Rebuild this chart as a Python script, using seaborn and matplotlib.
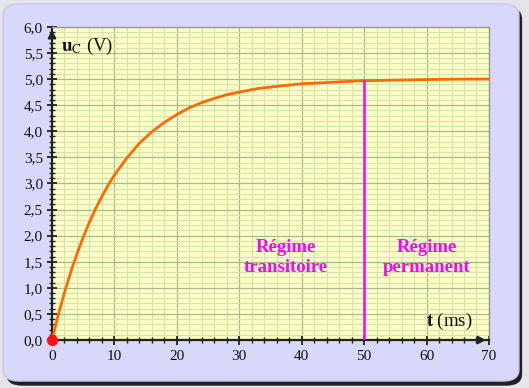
import numpy as np
import pandas as pd
import matplotlib
matplotlib.use("Agg")
import matplotlib.pyplot as plt
import seaborn as sns
from matplotlib.patches import FancyBboxPatch
from matplotlib.ticker import MultipleLocator, FuncFormatter

# Values
t_ms = [0, 1, 2, 3, 4, 5, 6, 7, 8, 9, 10, 12, 14, 16, 18, 20, 22, 24, 26, 28,
        30, 33, 36, 40, 45, 50, 55, 60, 65, 70]
u_c = [0.00, 0.48, 0.91, 1.30, 1.65, 1.97, 2.26, 2.52, 2.75, 2.97, 3.16, 3.49,
       3.77, 3.99, 4.17, 4.32, 4.45, 4.55, 4.63, 4.70, 4.75, 4.82, 4.86, 4.91,
       4.94, 4.97, 4.98, 4.99, 5.00, 5.00]
t_limit = 50
regime_labels = ["Régime\ntransitoire", "Régime\npermanent"]
regime_x = [37.5, 60.0]

df = pd.DataFrame({"t": t_ms, "u": u_c})

sns.set_theme(style="white")
plt.rcParams["font.family"] = ["Liberation Serif", "DejaVu Serif"]
plt.rcParams["mathtext.fontset"] = "stix"

fig = plt.figure(figsize=(5.29, 3.88), dpi=100)
fig.patch.set_facecolor("#e4e4ea")

# rounded panel with shadow
shadow = FancyBboxPatch((0.012, 0.006), 0.975, 0.975, boxstyle="round,pad=0,rounding_size=0.03",
                        transform=fig.transFigure, facecolor="#202020", edgecolor="none", zorder=-2)
panel = FancyBboxPatch((0.006, 0.018), 0.975, 0.972, boxstyle="round,pad=0,rounding_size=0.03",
                       transform=fig.transFigure, facecolor="#d8d8fa", edgecolor="#c8c8ee",
                       linewidth=1, zorder=-1)
fig.patches.extend([shadow, panel])

ax = fig.add_axes([0.0983, 0.1237, 0.826, 0.807])
ax.set_facecolor("#ffffc8")

sns.lineplot(data=df, x="t", y="u", ax=ax, color="#ff6a00", linewidth=2, zorder=4)
ax.plot([0], [0], "o", color="#ff1010", markersize=7, zorder=6, clip_on=False)
ax.plot([t_limit, t_limit], [0, df.loc[df.t == t_limit, "u"].iloc[0]],
        color="#ff00ff", linewidth=1.8, zorder=5)

ax.set_xlim(0, 70)
ax.set_ylim(0, 6)
ax.xaxis.set_major_locator(MultipleLocator(10))
ax.xaxis.set_minor_locator(MultipleLocator(2))
ax.yaxis.set_major_locator(MultipleLocator(0.5))
ax.yaxis.set_minor_locator(MultipleLocator(0.1))
ax.yaxis.set_major_formatter(FuncFormatter(lambda v, p: f"{v:.1f}".replace(".", ",")))

ax.grid(which="minor", color="#d3e5a8", linewidth=0.8, zorder=0)
ax.grid(which="major", color="#a8bb8c", linewidth=0.9, zorder=0)
ax.set_axisbelow(True)

ax.tick_params(which="major", direction="inout", length=7, width=1.3, color="#222222",
               labelsize=11, labelcolor="#111111")
ax.tick_params(which="minor", direction="inout", length=4, width=1, color="#222222")
ax.tick_params(axis="x", which="major", pad=4)
ax.tick_params(axis="y", which="major", pad=3)
ax.tick_params(left=True, bottom=True, which="both")

for s in ["left", "bottom"]:
    ax.spines[s].set_color("#222222")
    ax.spines[s].set_linewidth(1.6)
for s in ["top", "right"]:
    ax.spines[s].set_color("#999999")
    ax.spines[s].set_linewidth(1)

# axis arrows
ax.annotate("", xy=(0, 6.0), xytext=(0, 5.75), arrowprops=dict(arrowstyle="-|>", color="#222222", lw=1.4),
            annotation_clip=False)
ax.annotate("", xy=(70, 0), xytext=(67.5, 0), arrowprops=dict(arrowstyle="-|>", color="#222222", lw=1.4),
            annotation_clip=False)

ax.set_xlabel("")
ax.set_ylabel("")
ax.text(1.5, 5.63, r"$\mathbf{u}_{\mathrm{C}}$ (V)", fontsize=13.5, va="center", ha="left", color="#111111")
ax.text(67.3, 0.36, r"$\mathbf{t}$ (ms)", fontsize=13.5, va="center", ha="right", color="#111111")

for lab, x in zip(regime_labels, regime_x):
    ax.text(x, 1.58, lab, color="#ff00ff", fontsize=13.5, fontweight="bold",
            ha="center", va="center", linespacing=1.2)

fig.savefig("out.png", dpi=100, facecolor=fig.get_facecolor())
